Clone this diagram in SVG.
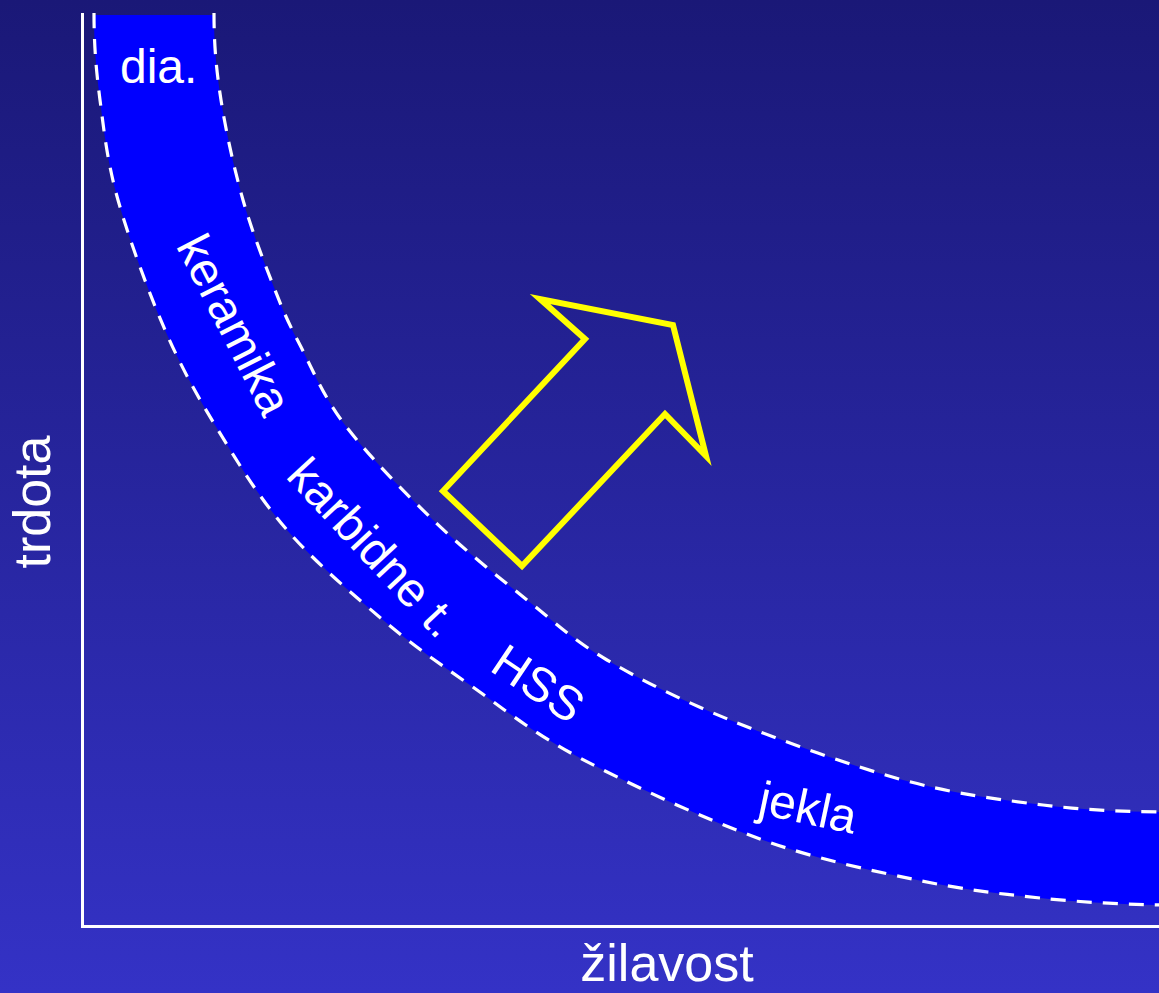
<svg xmlns="http://www.w3.org/2000/svg" width="1159" height="993" viewBox="0 0 1159 993">
<defs>
<linearGradient id="bg" x1="0" y1="0" x2="0" y2="1">
<stop offset="0" stop-color="#1a1877"/>
<stop offset="1" stop-color="#3432c6"/>
</linearGradient>
<style>
.lbl{font-family:"Liberation Sans",Arial,sans-serif;fill:#ffffff;}
.dash{fill:none;stroke:#ffffff;stroke-width:3.2;stroke-dasharray:15 11;}
.axis{stroke:#ffffff;stroke-width:3;fill:none;}
</style>
</defs>
<rect width="1159" height="993" fill="url(#bg)"/>
<g id="axes">
<path class="axis" d="M82.5 13 V926.5 H1159"/>
</g>
<g id="band">
<path fill="#0000ff" d="M94 15 C94 45,96 69.2,100 100 C104 130.8,107.2 161.7,118 200 C128.8 238.3,148.3 291.7,165 330 C181.7 368.3,197.7 396.7,218 430 C238.3 463.3,259.5 498.3,287 530 C314.5 561.7,352.5 594.2,383 620 C413.5 645.8,437.2 662,470 685 C502.8 708,531.7 732.3,580 758 C628.3 783.7,703.8 818.7,760 839 C816.2 859.3,870.3 870.2,917 880 C963.7 889.8,999.7 893.8,1040 898 C1080.3 902.2,1130 905,1170 905 L1170 812 C1130 812,1085.7 810.3,1043 805 C1000.3 799.7,955.2 794.2,903 780 C850.8 765.8,779.3 740,730 720 C680.7 700,640.8 680,607 660 C573.2 640,556 623.3,527 600 C498 576.7,463.3 549.2,433 520 C402.7 490.8,367.2 454.2,345 425 C322.8 395.8,311.7 367.5,300 345 C288.3 322.5,284.5 314.2,275 290 C265.5 265.8,252 231.7,243 200 C234 168.3,225.8 130.8,221 100 C216.2 69.2,214 45,214 15 Z"/>
</g>
<g id="connectors">
<path class="dash" d="M94 13 C94 45,96 69.2,100 100 C104 130.8,107.2 161.7,118 200 C128.8 238.3,148.3 291.7,165 330 C181.7 368.3,197.7 396.7,218 430 C238.3 463.3,259.5 498.3,287 530 C314.5 561.7,352.5 594.2,383 620 C413.5 645.8,437.2 662,470 685 C502.8 708,531.7 732.3,580 758 C628.3 783.7,703.8 818.7,760 839 C816.2 859.3,870.3 870.2,917 880 C963.7 889.8,999.7 893.8,1040 898 C1080.3 902.2,1130 905,1170 905"/>
<path class="dash" d="M214 13 C214 45,216.2 69.2,221 100 C225.8 130.8,234 168.3,243 200 C252 231.7,265.5 265.8,275 290 C284.5 314.2,288.3 322.5,300 345 C311.7 367.5,322.8 395.8,345 425 C367.2 454.2,402.7 490.8,433 520 C463.3 549.2,498 576.7,527 600 C556 623.3,573.2 640,607 660 C640.8 680,680.7 700,730 720 C779.3 740,850.8 765.8,903 780 C955.2 794.2,1000.3 799.7,1043 805 C1085.7 810.3,1130 812,1170 812"/>
</g>
<g id="arrow">
<polygon points="443,491 522,566 665,414 706,456 673,325 540,299 585,339" fill="none" stroke="#ffff00" stroke-width="6" stroke-linejoin="miter"/>
</g>
<g id="label-dia"><text class="lbl" x="120" y="83" font-size="48">dia.</text></g>
<g id="label-keramika" transform="translate(234,325) rotate(63)"><text class="lbl" x="0" y="16" font-size="48" text-anchor="middle">keramika</text></g>
<g id="label-karbidne" transform="translate(373,548) rotate(47)"><text class="lbl" x="0" y="16" font-size="48" text-anchor="middle">karbidne t.</text></g>
<g id="label-hss" transform="translate(538,684) rotate(34)"><text class="lbl" x="0" y="16" font-size="48" text-anchor="middle">HSS</text></g>
<g id="label-jekla" transform="translate(808,808) rotate(12)"><text class="lbl" x="0" y="16" font-size="48" text-anchor="middle">jekla</text></g>
<g id="label-trdota" transform="translate(50,502) rotate(-90)"><text class="lbl" x="0" y="0" font-size="52" text-anchor="middle">trdota</text></g>
<g id="label-zilavost"><text class="lbl" x="667" y="981" font-size="52" text-anchor="middle">žilavost</text></g>
</svg>
